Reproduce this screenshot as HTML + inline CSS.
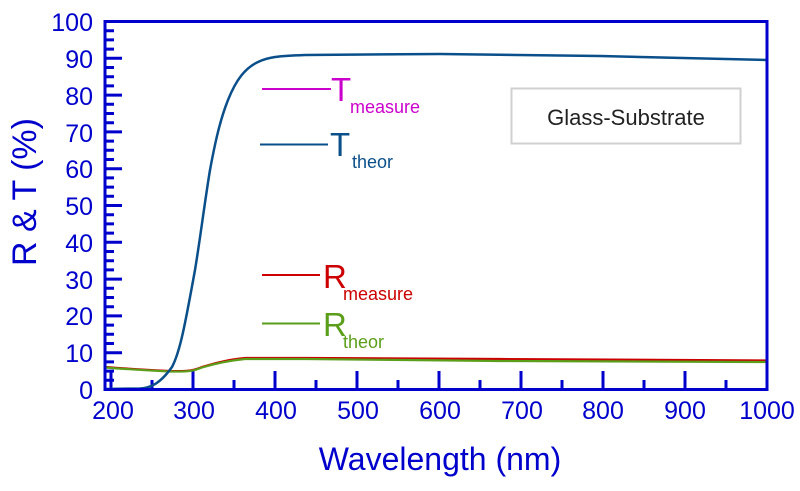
<!DOCTYPE html>
<html><head><meta charset="utf-8"><style>
body{margin:0;background:#fff}
svg text{font-family:"Liberation Sans",sans-serif}
</style></head><body>
<svg width="800" height="486" viewBox="0 0 800 486" xmlns="http://www.w3.org/2000/svg">
<rect width="800" height="486" fill="#fff"/>
<path stroke="#0000cc" stroke-width="3" fill="none" d="
M105 380.3h9 M105 371.1h9 M105 361.9h9 M105 352.7h17 M105 343.5h9 M105 334.3h9 M105 325.1h9 M105 315.9h17
M105 306.7h9 M105 297.5h9 M105 288.3h9 M105 279.1h17 M105 269.9h9 M105 260.7h9 M105 251.5h9 M105 242.3h17
M105 233.1h9 M105 223.9h9 M105 214.7h9 M105 205.5h17 M105 196.3h9 M105 187.1h9 M105 177.9h9 M105 168.7h17
M105 159.5h9 M105 150.3h9 M105 141.1h9 M105 131.9h17 M105 122.7h9 M105 113.5h9 M105 104.3h9 M105 95.1h17
M105 85.9h9 M105 76.7h9 M105 67.5h9 M105 58.3h17 M105 49.1h9 M105 39.9h9 M105 30.7h9
M111 389v-18 M152 389v-9 M193 389v-18 M234 389v-9 M275 389v-18 M316 389v-9 M357 389v-18 M398 389v-9
M439 389v-18 M480 389v-9 M521 389v-18 M562 389v-9 M603 389v-18 M644 389v-9 M685 389v-18 M726 389v-9"/>
<path d="M105 367 C130 369 150 370 170 371 C190 371.5 195 370 202 367 C212 364 225 360 245 358 L305 358 L500 359 L767 360.5" fill="none" stroke="#cc0000" stroke-width="2.2"/>
<path d="M105 367.5 C130 369.5 150 370.5 170 371.5 C190 372 195 370.5 202 367.5 C212 364.5 225 361 245 359 L305 359 L500 361 L767 362" fill="none" stroke="#5a9e1a" stroke-width="2.2"/>
<path d="M105 389 L140 388.5 C150 388 160 384 172 367 C180 352 185 325 195 270 C200 240 205 200 210 170 C215 143 220 120 228 100 C236 80 245 68 258 62 C268 57 278 56 305 55 L440 54 L600 56 L767 60" fill="none" stroke="#0a4f8a" stroke-width="2.5"/>
<rect x="105" y="21.5" width="662" height="368" fill="none" stroke="#0000cc" stroke-width="3"/>
<g fill="#0000cc" font-size="25" text-anchor="end">
<text x="93" y="31">100</text><text x="93" y="68">90</text><text x="93" y="105">80</text><text x="93" y="142">70</text><text x="93" y="178">60</text><text x="93" y="215">50</text><text x="93" y="252">40</text><text x="93" y="289">30</text><text x="93" y="325">20</text><text x="93" y="362">10</text><text x="93" y="399">0</text>
</g>
<g fill="#0000cc" font-size="25" text-anchor="middle">
<text x="113" y="419">200</text><text x="194" y="419">300</text><text x="276" y="419">400</text><text x="358" y="419">500</text><text x="440" y="419">600</text><text x="522" y="419">700</text><text x="603" y="419">800</text><text x="685" y="419">900</text><text x="767" y="419">1000</text>
</g>
<text x="440" y="470" fill="#0000cc" font-size="32" text-anchor="middle">Wavelength (nm)</text>
<text transform="translate(36,192) rotate(-90)" fill="#0000cc" font-size="34" text-anchor="middle">R &amp; T (%)</text>
<line x1="262" y1="89" x2="331" y2="89" stroke="#cc00cc" stroke-width="2"/>
<text x="331" y="101" fill="#cc00cc" font-size="33">T</text><text x="350" y="113" fill="#cc00cc" font-size="18">measure</text>
<line x1="260" y1="144.5" x2="328" y2="144.5" stroke="#0a4f8a" stroke-width="2"/>
<text x="330" y="156" fill="#0a4f8a" font-size="33">T</text><text x="352" y="168" fill="#0a4f8a" font-size="18">theor</text>
<line x1="262" y1="275" x2="320" y2="275" stroke="#cc0000" stroke-width="2"/>
<text x="323" y="288" fill="#cc0000" font-size="33">R</text><text x="343" y="300" fill="#cc0000" font-size="18">measure</text>
<line x1="262" y1="323.5" x2="320" y2="323.5" stroke="#5a9e1a" stroke-width="2"/>
<text x="323" y="336" fill="#5a9e1a" font-size="33">R</text><text x="343" y="348" fill="#5a9e1a" font-size="18">theor</text>
<rect x="511.5" y="88.5" width="229" height="55" fill="#fff" stroke="#d0d0d0" stroke-width="2"/>
<text x="626" y="125" fill="#222" font-size="22" text-anchor="middle">Glass-Substrate</text>
</svg>
</body></html>
